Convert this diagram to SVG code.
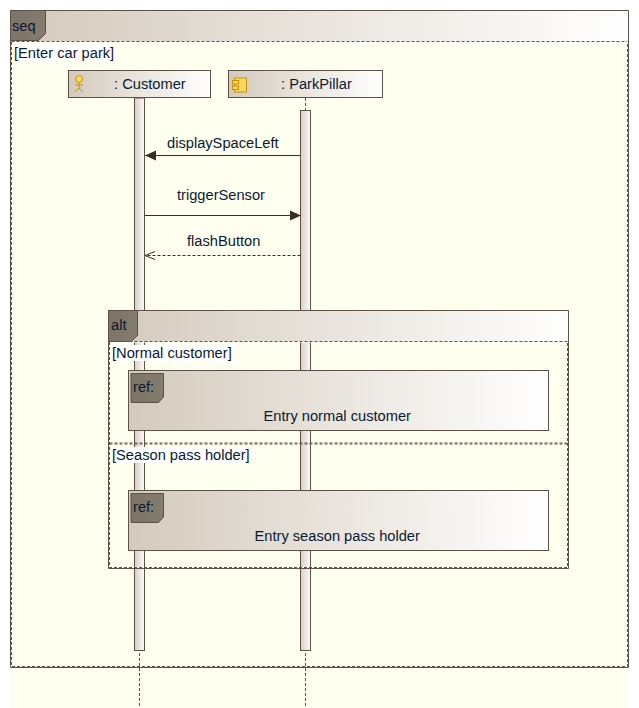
<svg xmlns="http://www.w3.org/2000/svg" width="639" height="708" viewBox="0 0 639 708">
<style>
text{font-family:"Liberation Sans",Arial,sans-serif;font-size:14.67px;fill:#0a1a33}
.b{stroke:#5f5145;stroke-width:1;fill:none}
.d{stroke:#5f5145;stroke-width:1;stroke-dasharray:3 2;fill:none}
.wl{stroke:#fff;stroke-width:1;fill:none}
.msg{stroke:#3a2c20;stroke-width:1;fill:none}
.tab{fill:url(#tab);stroke:#5f5145;stroke-width:1}
.act{fill:url(#act);stroke:#5f5145;stroke-width:1}
.hd{fill:url(#hd);stroke:#5f5145;stroke-width:1}
.hf{fill:url(#hd)}
.w{fill:#fff}
</style>
<defs>
<linearGradient id="hd" x1="0" y1="0" x2="1" y2="0"><stop offset="0" stop-color="#d4cabd"/><stop offset="1" stop-color="#fff"/></linearGradient>
<linearGradient id="tab" x1="0" y1="0" x2="1" y2="0"><stop offset="0" stop-color="#7d7468"/><stop offset="1" stop-color="#857c70"/></linearGradient>
<linearGradient id="act" x1="0" y1="0" x2="1" y2="0"><stop offset="0" stop-color="#d8d0c6"/><stop offset="1" stop-color="#fbfaf9"/></linearGradient>
<marker id="fill" markerUnits="userSpaceOnUse" markerWidth="13" markerHeight="12" refX="11" refY="6" orient="auto"><path d="M0 1L11 6L0 11Z" fill="#3a2c20"/></marker>
<marker id="open" markerUnits="userSpaceOnUse" markerWidth="12" markerHeight="10" refX="10" refY="5" orient="auto"><path d="M0 1L10 5L0 9" fill="none" stroke="#3a2c20"/></marker>
</defs>
<rect x="10" y="10" width="619" height="698" fill="#ffffef"/>
<g id="lifelines">
<path class="d" d="M139.5 98V708M305.5 98V708"/>
<rect class="act" x="134.5" y="98" width="10" height="552.5"/>
<rect class="act" x="300.5" y="110.5" width="10" height="540"/>
</g>
<g id="seq-frame">
<rect class="hf" x="10.5" y="10.5" width="618" height="31"/>
<path class="b" d="M10.5 10.5H628.5V667.5H10.5Z"/>
<path class="wl" d="M11.5 42V666.5H627.5V42M11.5 42H627.5"/>
<path class="d" d="M11.5 41.5H627.5M11.5 42V666.5H627.5V42"/>
<path class="tab" d="M10.5 10.5H45.5V33.5L38.5 40.5H10.5Z"/>
<text x="12" y="31">seq</text>
<rect class="w" x="14" y="45" width="100" height="16"/>
<text x="14" y="58">[Enter car park]</text>
</g>
<g id="customer">
<rect class="hd" x="68.5" y="70.5" width="142" height="27"/>
<g fill="none" stroke="#c89000"><circle cx="79" cy="79" r="3.5" fill="#f8d860"/><path d="M79 83V88M75 85H83M75 92L79 88L83 92"/></g>
<text x="114" y="89">: Customer</text>
</g>
<g id="parkpillar">
<rect class="hd" x="228.5" y="70.5" width="154" height="27"/>
<rect x="234.5" y="78" width="12" height="14" fill="#f8d860" stroke="#c89000"/>
<rect x="232.5" y="80.5" width="6" height="3.5" fill="#f8d860" stroke="#c89000"/>
<rect x="232.5" y="86" width="6" height="3.5" fill="#f8d860" stroke="#c89000"/>
<text x="281" y="89">: ParkPillar</text>
</g>
<g id="connectors">
<path class="msg" d="M300.5 155.5H145" marker-end="url(#fill)"/>
<path class="msg" d="M144.5 215.5H301" marker-end="url(#fill)"/>
<path class="msg" stroke-dasharray="3 2" d="M300.5 255.5H145" marker-end="url(#open)"/>
<text x="167" y="148">displaySpaceLeft</text>
<text x="177" y="200">triggerSensor</text>
<text x="187" y="246">flashButton</text>
</g>
<g id="alt-frame">
<rect class="hf" x="108.5" y="310.5" width="460" height="31"/>
<path class="b" d="M108.5 310.5H568.5V568.5H108.5Z"/>
<path class="wl" d="M109.5 342V567.5H567.5V342M109.5 342H567.5"/>
<path class="d" d="M109.5 341.5H567.5M109.5 342V567.5H567.5V342"/>
<path class="d" d="M109.5 443H568M109.5 444H568"/>
<path class="tab" d="M108.5 310.5H137.5V335.5L131.5 341.5H108.5Z"/>
<text x="111" y="330">alt</text>
<rect class="w" x="112" y="345" width="121" height="16"/>
<text x="112" y="358">[Normal customer]</text>
<rect class="w" x="112" y="447" width="138" height="16"/>
<text x="112" y="460">[Season pass holder]</text>
</g>
<g id="ref-normal">
<rect class="hd" x="128.5" y="370.5" width="420" height="60"/>
<path class="tab" d="M131 373.5H163.5V397L158.5 402.5H131Z"/>
<text x="133" y="392">ref:</text>
<text x="263.5" y="421">Entry normal customer</text>
</g>
<g id="ref-season">
<rect class="hd" x="128.5" y="490.5" width="420" height="60"/>
<path class="tab" d="M131 493.5H163.5V517L158.5 522.5H131Z"/>
<text x="133" y="512">ref:</text>
<text x="254.5" y="541">Entry season pass holder</text>
</g>
</svg>
